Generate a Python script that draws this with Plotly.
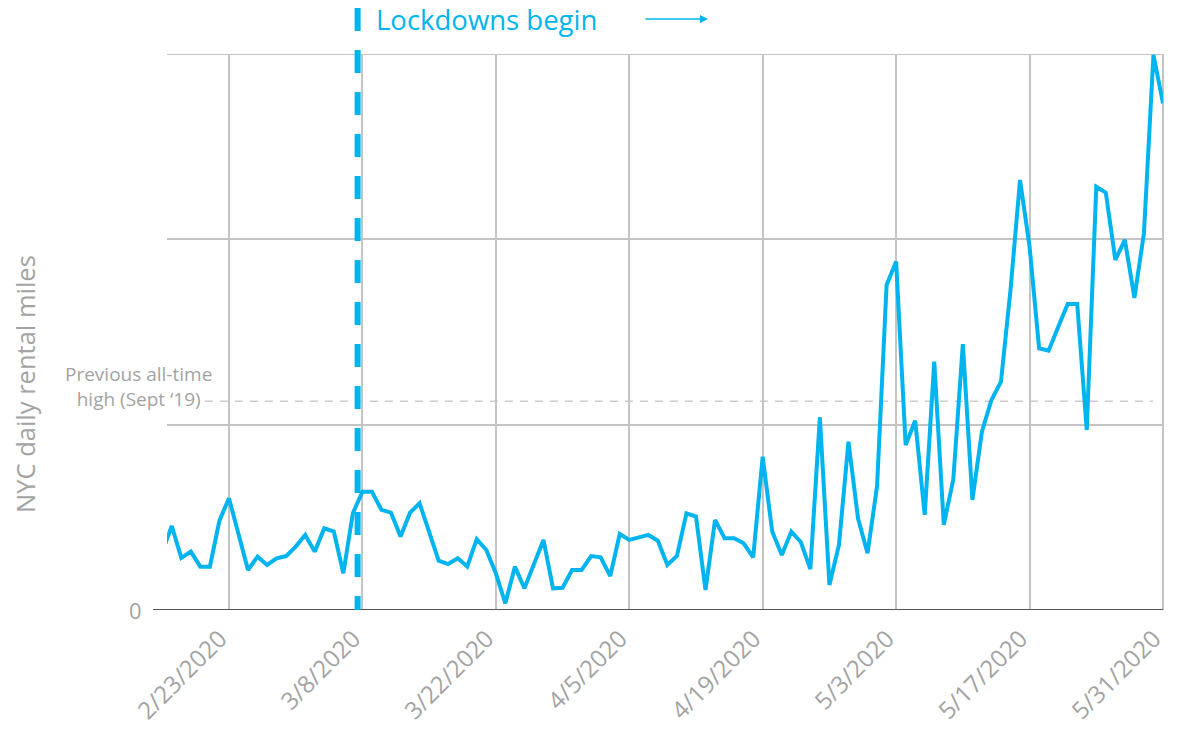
import pandas as pd
import plotly.graph_objects as go

# ---- data ----
dates = pd.date_range("2020-02-16", "2020-05-31", freq="D")

feb_vals = [0.313, 0.453, 0.281, 0.315, 0.234, 0.234, 0.482, 0.603, 0.41, 0.216,
            0.288, 0.243, 0.279, 0.291]
mar_vals = [0.342, 0.405, 0.315, 0.441, 0.423, 0.198, 0.522, 0.638, 0.638, 0.54,
            0.525, 0.396, 0.525, 0.576, 0.421, 0.266, 0.248, 0.279, 0.234, 0.382,
            0.324, 0.198, 0.036, 0.234, 0.117, 0.243, 0.378, 0.117, 0.12, 0.216,
            0.216]
apr_vals = [0.291, 0.284, 0.183, 0.41, 0.378, 0.392, 0.405, 0.374, 0.243, 0.291,
            0.522, 0.504, 0.108, 0.486, 0.387, 0.387, 0.36, 0.284, 0.827, 0.423,
            0.297, 0.423, 0.367, 0.221, 1.04, 0.135, 0.351, 0.908, 0.495, 0.306]
may_vals = [0.669, 1.754, 1.88, 0.89, 1.022, 0.513, 1.34, 0.46, 0.705, 1.435,
            0.594, 0.962, 1.133, 1.232, 1.727, 2.32, 1.961, 1.412, 1.399, 1.527,
            1.651, 1.651, 0.971, 2.284, 2.252, 1.889, 1.997, 1.684, 2.033, 2.995,
            2.734]
miles = feb_vals + mar_vals + apr_vals + may_vals

tick_dates = ["2020-02-23", "2020-03-08", "2020-03-22", "2020-04-05",
              "2020-04-19", "2020-05-03", "2020-05-17", "2020-05-31"]
tick_labels = ["2/23/2020", "3/8/2020", "3/22/2020", "4/5/2020",
               "4/19/2020", "5/3/2020", "5/17/2020", "5/31/2020"]
y_grid = [0, 1, 2, 3]
prev_high = 1.127
lockdown_date = "2020-03-07 12:00"

BLUE = "#00b5ef"
GREY = "#a3a3a3"
GRID = "#c4c4c4"
FONT = "Open Sans"

fig = go.Figure()
fig.add_trace(go.Scatter(
    x=dates, y=miles, mode="lines",
    line=dict(color=BLUE, width=4),
    hoverinfo="skip", showlegend=False,
))

fig.update_layout(
    width=1184, height=738,
    margin=dict(l=167, r=21, t=54, b=128),
    paper_bgcolor="white", plot_bgcolor="white",
    font=dict(family=FONT, color=GREY),
    xaxis=dict(
        range=["2020-02-16 12:00", "2020-05-31 00:00"],
        tickvals=tick_dates, ticktext=tick_labels,
        tickangle=-45, tickfont=dict(size=24, color=GREY, family=FONT),
        ticklabelshift=-9, ticklabelstandoff=9,
        showgrid=True, gridcolor=GRID, gridwidth=2,
        zeroline=False, showline=False, ticks="", automargin=False,
    ),
    yaxis=dict(
        range=[0, 3],
        tickvals=y_grid, ticktext=["", "", "", ""],
        showgrid=True, gridcolor=GRID, gridwidth=2,
        zeroline=False, showline=False, ticks="", automargin=False,
    ),
)

# top grid line and right border (edge grid lines)
fig.add_shape(type="line", xref="paper", yref="y", x0=0, x1=1, y0=3, y1=3,
              line=dict(color=GRID, width=2), layer="below")
fig.add_shape(type="line", xref="paper", yref="paper", x0=1, x1=1, y0=0, y1=1,
              line=dict(color=GRID, width=2), layer="below")

# baseline (extends a little left of the plot)
fig.add_shape(type="line", xref="paper", yref="y", x0=-0.014, x1=1.0, y0=0, y1=0,
              line=dict(color="#555555", width=2), layer="above")

# previous all-time high dashed line
fig.add_shape(type="line", xref="paper", yref="y", x0=0.038, x1=0.99,
              y0=prev_high, y1=prev_high,
              line=dict(color="#cccccc", width=1.5, dash="8px,7px"), layer="below")

# lockdown dashed vertical line
fig.add_shape(type="line", xref="x", yref="paper", x0=lockdown_date, x1=lockdown_date,
              y0=(610 - 8) / 556, y1=0,
              line=dict(color=BLUE, width=6, dash="23px,19px"), layer="above")

# annotations
fig.add_annotation(xref="paper", yref="paper", x=(375 - 167) / 996, y=(610 - 20) / 556,
                   text="Lockdowns begin", showarrow=False, xanchor="left", yanchor="middle",
                   borderpad=0, font=dict(size=27.5, color=BLUE, family=FONT))
fig.add_annotation(xref="paper", yref="paper", x=(708 - 167) / 996, y=(610 - 19) / 556,
                   ax=-64, ay=0, text="", showarrow=True, arrowhead=2, arrowsize=1,
                   arrowwidth=1.6, arrowcolor=BLUE)
fig.add_annotation(xref="paper", yref="paper", x=(25 - 167) / 996, y=(610 - 384) / 556,
                   text="NYC daily rental miles", textangle=-90, showarrow=False,
                   xanchor="center", yanchor="middle",
                   font=dict(size=25.5, color=GREY, family=FONT))
fig.add_annotation(xref="paper", yref="y", x=(144 - 167) / 996, y=0,
                   text="0", showarrow=False, xanchor="right", yanchor="middle",
                   font=dict(size=22, color=GREY, family=FONT))
fig.add_annotation(xref="paper", yref="paper", x=(138 - 167) / 996, y=(610 - 386) / 556,
                   text="Previous all-time<br>high (Sept \u201819)", showarrow=False,
                   xanchor="center", yanchor="middle", align="center",
                   font=dict(size=19, color=GREY, family=FONT))

# remove the browser's default body margin so the figure sits at the page origin
fig.write_html("out.html", config={"displayModeBar": False},
               post_script="document.body.style.margin='0';")
